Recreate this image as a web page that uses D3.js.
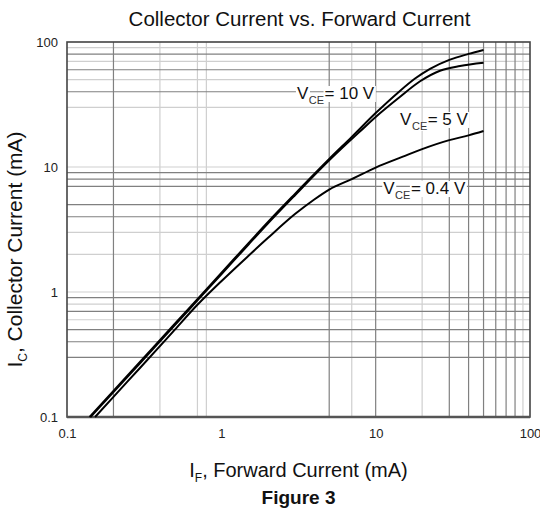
<!DOCTYPE html>
<html>
<head>
<meta charset="utf-8">
<script src="https://cdn.jsdelivr.net/npm/d3@7"></script>
<style>
  html, body { margin: 0; padding: 0; background: #fff; }
  svg { display: block; font-family: "Liberation Sans", Arial, Helvetica, sans-serif; }
</style>
</head>
<body>
<svg id="chart" width="540" height="509"></svg>
<script>
// ---------------- data ----------------
const chartTitle = "Collector Current vs. Forward Current";
const figureLabel = "Figure 3";
const xTicks = [0.1, 1, 10, 100];
const yTicks = [0.1, 1, 10, 100];
const xTickLabels = ["0.1", "1", "10", "100"];
const yTickLabels = ["0.1", "1", "10", "100"];

// grid lines as they appear in the reference (some missing)
const xGridDark = [0.2, 5, 10, 30, 40, 50, 60, 70, 80];
const xGridLight = [0.4, 0.7, 0.8, 7, 20, 90];
const yGridDark = [0.3, 0.4, 0.5, 0.7, 0.9, 4, 5, 7, 8, 9, 40, 60, 80];
const yGridLight = [0.6, 0.8, 1, 2, 3, 10, 30, 50, 70, 90];

// VCE = 10 V
const if10 = [0.14, 0.2, 0.3, 0.5, 0.7, 1, 1.5, 2, 3, 5, 7, 10, 14, 18, 22.5, 30, 40, 50];
const ic10 = [0.1, 0.162, 0.28, 0.557, 0.878, 1.42, 2.46, 3.62, 6.1, 11.6, 17.4, 27, 39.5, 51, 61, 72, 80.3, 86.3];
// VCE = 5 V
const if5 = [0.142, 0.2, 0.3, 0.5, 0.7, 1, 1.5, 2, 3, 5, 7.9, 10.7, 14.4, 19.4, 26.1, 35.2, 50];
const ic5 = [0.1, 0.158, 0.273, 0.543, 0.856, 1.385, 2.4, 3.53, 5.95, 11.3, 19.2, 27.0, 36.5, 48.5, 58.9, 64.3, 68.3];
// VCE = 0.4 V
const if04 = [0.152, 0.2, 0.3, 0.5, 0.7, 1, 1.5, 2, 3, 4, 5, 7, 10, 15, 20, 30, 40, 50];
const ic04 = [0.1, 0.145, 0.25, 0.5, 0.79, 1.22, 1.95, 2.7, 4.2, 5.5, 6.6, 8.0, 9.9, 12.1, 13.9, 16.4, 17.9, 19.4];

// curve labels: [main, subscript, rest], anchor (IF, IC) of the label's left baseline
const labelTexts = [["V", "CE", "= 10 V"], ["V", "CE", "= 5 V"], ["V", "CE", "= 0.4 V"]];
const labelIF = [3.09, 14.4, 11.2];
const labelIC = [35, 21.7, 6.08];

const xTitleMain = "I";
const xTitleSub = "F";
const xTitleRest = ", Forward Current (mA)";
const yTitleMain = "I";
const yTitleSub = "C";
const yTitleRest = ", Collector Current (mA)";

// ---------------- layout ----------------
const svg = d3.select("#chart");
const L = 67, R = 530, T = 42, B = 417;

const x = d3.scaleLog().domain([0.1, 100]).range([L, R]);
const y = d3.scaleLog().domain([0.1, 100]).range([B, T]);

const gridLayer = svg.append("g");
const labelLayer = svg.append("g");
const curveLayer = svg.append("g");
const axisLayer = svg.append("g");

// grid
gridLayer.selectAll("line.xgl").data(xGridLight).join("line")
  .attr("x1", d => x(d)).attr("x2", d => x(d)).attr("y1", T).attr("y2", B)
  .attr("stroke", "#cfcfcf").attr("stroke-width", 1.2);
gridLayer.selectAll("line.ygl").data(yGridLight).join("line")
  .attr("y1", d => y(d)).attr("y2", d => y(d)).attr("x1", L).attr("x2", R)
  .attr("stroke", "#cfcfcf").attr("stroke-width", 1.2);
gridLayer.selectAll("line.xgd").data(xGridDark).join("line")
  .attr("x1", d => x(d)).attr("x2", d => x(d)).attr("y1", T).attr("y2", B)
  .attr("stroke", "#808080").attr("stroke-width", 1.2);
gridLayer.selectAll("line.ygd").data(yGridDark).join("line")
  .attr("y1", d => y(d)).attr("y2", d => y(d)).attr("x1", L).attr("x2", R)
  .attr("stroke", "#808080").attr("stroke-width", 1.2);

// frame
gridLayer.append("rect").attr("x", L).attr("y", T).attr("width", R - L).attr("height", B - T)
  .attr("fill", "none").attr("stroke", "#444").attr("stroke-width", 1.6);
gridLayer.append("line").attr("x1", L).attr("x2", R).attr("y1", B).attr("y2", B)
  .attr("stroke", "#555").attr("stroke-width", 2.5);

// labels for curves (white boxes behind text pieces)
labelTexts.forEach((parts, i) => {
  const px = x(labelIF[i]), py = y(labelIC[i]);
  const lg = labelLayer.append("g");
  const t1 = lg.append("text").attr("x", px).attr("y", py)
    .attr("font-size", 17).attr("fill", "#111").text(parts[0]);
  const w1 = t1.node().getComputedTextLength();
  const t2 = lg.append("text").attr("x", px + w1 + 0.5).attr("y", py + 5)
    .attr("font-size", 11).attr("fill", "#333").text(parts[1]);
  const w2 = t2.node().getComputedTextLength();
  const t3 = lg.append("text").attr("x", px + w1 + w2 + 1).attr("y", py)
    .attr("font-size", 17).attr("fill", "#111").text(parts[2]);
  [t1, t2, t3].forEach(t => {
    const bb = t.node().getBBox();
    lg.insert("rect", "text").attr("x", bb.x - 1).attr("y", bb.y + 2)
      .attr("width", bb.width + 2).attr("height", bb.height - 3).attr("fill", "#fff");
  });
});

// curves
const line = d3.line().x(d => x(d[0])).y(d => y(d[1])).curve(d3.curveMonotoneX);
const series = [d3.zip(if04, ic04), d3.zip(if5, ic5), d3.zip(if10, ic10)];
curveLayer.selectAll("path.curve").data(series).join("path")
  .attr("d", line).attr("fill", "none").attr("stroke", "#000")
  .attr("stroke-width", 2).attr("stroke-linejoin", "round");

// axes
const xAxis = d3.axisBottom(x).tickValues(xTicks).tickSize(0)
  .tickFormat((d, i) => xTickLabels[i]);
const xa = axisLayer.append("g").attr("transform", `translate(0,${B + 9})`).call(xAxis);
xa.select(".domain").remove();
xa.selectAll("text").attr("font-size", 13).attr("fill", "#222")
  .attr("font-family", "Liberation Sans, Arial, sans-serif");

const yAxis = d3.axisLeft(y).tickValues(yTicks).tickSize(0)
  .tickFormat((d, i) => yTickLabels[i]);
const ya = axisLayer.append("g").attr("transform", `translate(${L - 6},0)`).call(yAxis);
ya.select(".domain").remove();
ya.selectAll("text").attr("font-size", 13).attr("fill", "#222")
  .attr("font-family", "Liberation Sans, Arial, sans-serif");

// title
svg.append("text").attr("x", (L + R) / 2 + 1).attr("y", 26).attr("text-anchor", "middle")
  .attr("font-size", 20.5).attr("fill", "#111").text(chartTitle);

// x title
const xt = svg.append("text").attr("x", (L + R) / 2).attr("y", 477).attr("text-anchor", "middle")
  .attr("font-size", 20).attr("fill", "#111");
xt.append("tspan").text(xTitleMain);
xt.append("tspan").attr("font-size", 12).attr("dy", 5).text(xTitleSub);
xt.append("tspan").attr("dy", -5).text(xTitleRest);

// y title
const yt = svg.append("text")
  .attr("transform", `translate(22,${(T + B) / 2 + 20}) rotate(-90)`)
  .attr("text-anchor", "middle").attr("font-size", 21).attr("fill", "#111");
yt.append("tspan").text(yTitleMain);
yt.append("tspan").attr("font-size", 12).attr("dy", 5).text(yTitleSub);
yt.append("tspan").attr("dy", -5).text(yTitleRest);

// figure label
svg.append("text").attr("x", (L + R) / 2).attr("y", 504).attr("text-anchor", "middle")
  .attr("font-size", 19).attr("font-weight", "bold").attr("fill", "#111").text(figureLabel);
</script>
</body>
</html>
